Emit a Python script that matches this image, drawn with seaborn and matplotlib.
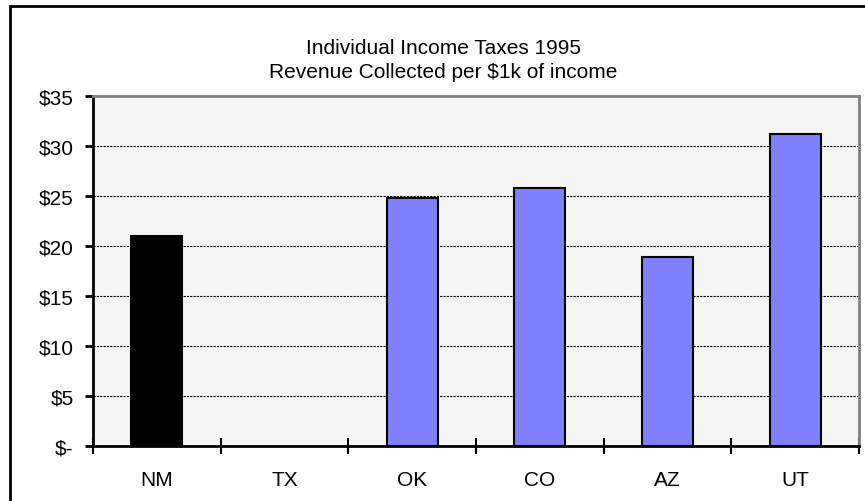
import matplotlib
matplotlib.use("Agg")
import matplotlib.pyplot as plt
from matplotlib.patches import Rectangle
from matplotlib.ticker import FixedLocator, FuncFormatter
import seaborn as sns
import pandas as pd

states = ["NM", "TX", "OK", "CO", "AZ", "UT"]
revenue = [21.0, 0.0, 24.8, 25.8, 18.9, 31.2]
bar_colors = ["#000000", "#8080FF", "#8080FF", "#8080FF", "#8080FF", "#8080FF"]
y_ticks = [0, 5, 10, 15, 20, 25, 30, 35]
title_lines = ["Individual Income Taxes 1995", "Revenue Collected per $1k of income"]

sns.set_theme(style="white")
plt.rcParams["font.family"] = ["Liberation Sans", "DejaVu Sans"]

df = pd.DataFrame({"state": states, "revenue": revenue})

fig = plt.figure(figsize=(8.65, 5.02), dpi=100)
fig.patch.set_facecolor("white")
ax = fig.add_axes([93 / 865, 55 / 502, (859 - 93) / 865, (447 - 97) / 502])
ax.set_facecolor("#F5F5F5")

sns.barplot(data=df, x="state", y="revenue", hue="state", palette=bar_colors,
            legend=False, width=0.4, edgecolor="black", linewidth=1.5,
            saturation=1, ax=ax, zorder=3)

# a zero-height bar leaves no visible outline
for patch in ax.patches:
    if patch.get_height() == 0:
        patch.set_linewidth(0)

ax.set_xlim(-0.5, len(states) - 0.5)
ax.set_ylim(0, 35)
ax.yaxis.set_major_locator(FixedLocator(y_ticks))
ax.yaxis.set_major_formatter(FuncFormatter(lambda v, p: "$-" if v == 0 else f"${v:.0f}"))
ax.grid(axis="y", color="black", linestyle=(0, (2, 1)), linewidth=0.8, zorder=1)
ax.set_axisbelow(True)

ax.set_xlabel("")
ax.set_ylabel("")

# category boundary ticks crossing the axis, labels centred under the bars
ax.xaxis.set_minor_locator(FixedLocator([i - 0.5 for i in range(len(states) + 1)]))
ax.tick_params(axis="x", which="minor", direction="inout", length=12, width=1.5, color="black", bottom=True)
ax.tick_params(axis="x", which="major", length=0, pad=17, labelsize=15, labelcolor="black")
ax.tick_params(axis="y", which="major", direction="out", length=6, width=2, color="black",
               left=True, pad=8, labelsize=15, labelcolor="black")

for side in ["top", "right"]:
    ax.spines[side].set_color("#808080")
    ax.spines[side].set_linewidth(2)
for side in ["left", "bottom"]:
    ax.spines[side].set_color("black")
    ax.spines[side].set_linewidth(2)

fig.text(0.5 + 11 / 865, 1 - 49 / 502, title_lines[0], ha="center", va="center", fontsize=15, color="black")
fig.text(0.5 + 11 / 865, 1 - 72 / 502, title_lines[1], ha="center", va="center", fontsize=15, color="black")

# outer chart frame
fig.patches.append(Rectangle((10 / 865, -0.1), 1.2, 1 - 7 / 502 + 0.1, transform=fig.transFigure,
                             fill=False, edgecolor="black", linewidth=2, zorder=10))

fig.savefig("out.png", dpi=100)
